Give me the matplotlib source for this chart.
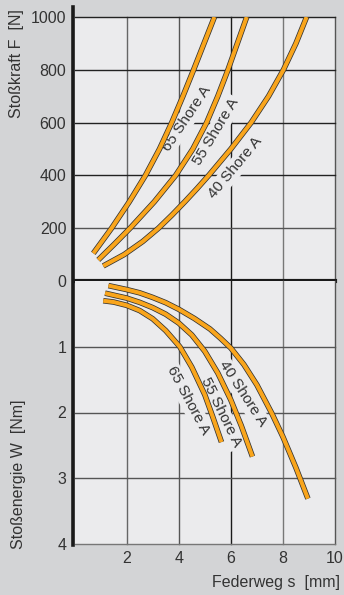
import matplotlib
matplotlib.use("Agg")
import matplotlib.pyplot as plt
import matplotlib.patheffects as pe
from matplotlib.lines import Line2D

plt.rcParams['font.family'] = ['Liberation Sans', 'DejaVu Sans']

# Stosskraft F [N] over Federweg s [mm]
f65_s = [0.72, 1.42, 2.10, 2.72, 3.26, 3.73, 4.16, 4.57, 4.97, 5.37]
f65_F = [105, 200, 300, 400, 500, 600, 700, 800, 900, 1000]
f55_s = [0.91, 1.53, 2.13, 3.06, 3.88, 4.54, 5.07, 5.50, 5.89, 6.25, 6.61]
f55_F = [80, 140, 200, 300, 400, 500, 600, 700, 800, 900, 1000]
f40_s = [1.10, 1.90, 2.62, 3.22, 3.74, 4.23, 4.70, 5.15, 6.00, 6.78, 7.45, 8.02, 8.50, 8.91]
f40_F = [57, 100, 150, 200, 250, 300, 350, 400, 500, 600, 700, 800, 900, 1000]

# Stossenergie W [Nm] over Federweg s [mm]
w65_s = [1.10, 1.5, 2.0, 2.5, 3.0, 3.5, 4.04, 4.5, 5.0, 5.3, 5.64]
w65_W = [0.30, 0.32, 0.37, 0.45, 0.575, 0.755, 1.00, 1.31, 1.73, 2.06, 2.45]
w55_s = [1.17, 1.5, 2.0, 2.5, 3.0, 3.5, 4.0, 4.5, 5.0, 5.5, 6.0, 6.4, 6.83]
w55_W = [0.185, 0.215, 0.26, 0.325, 0.405, 0.505, 0.64, 0.82, 1.07, 1.40, 1.81, 2.20, 2.67]
w40_s = [1.30, 2.0, 2.5, 3.0, 3.5, 4.0, 4.6, 5.2, 5.6, 6.0, 6.5, 7.0, 7.57, 8.0, 8.5, 8.96]
w40_W = [0.07, 0.13, 0.18, 0.25, 0.33, 0.43, 0.57, 0.73, 0.87, 1.02, 1.27, 1.58, 2.01, 2.37, 2.84, 3.31]

x_ticks = [2, 4, 6, 8, 10]
f_ticks = [0, 200, 400, 600, 800, 1000]
w_ticks = [1, 2, 3, 4]
label = "Shore A"

bg_out = '#d3d4d6'
bg_in = '#ebebed'
orange = '#f9a51c'
txt = '#333333'

fig = plt.figure(figsize=(3.44, 5.95), dpi=100, facecolor=bg_out)
W_, H_ = 344.0, 595.0
ax1 = fig.add_axes([74.6 / W_, 1 - 281 / H_, 260.4 / W_, 264 / H_], facecolor=bg_in)
ax2 = fig.add_axes([74.6 / W_, 1 - 544 / H_, 260.4 / W_, 263 / H_], facecolor=bg_in)

for ax in (ax1, ax2):
    ax.set_xlim(0, 10)
    for sp in ax.spines.values():
        sp.set_visible(False)
    ax.tick_params(length=0, labelsize=11.5, labelcolor=txt, pad=6)

ax1.set_ylim(0, 1000)
ax2.set_ylim(4, 0)
ax1.set_xticks([])
ax2.set_xticks(x_ticks)
ax1.set_yticks(f_ticks)
ax2.set_yticks(w_ticks)
ax2.tick_params(axis='x', pad=5)

# grid
vcol = {2: '#666666', 4: '#555555', 6: '#1a1a1a', 8: '#777777', 10: '#555555'}
for ax in (ax1, ax2):
    for xv in x_ticks:
        ax.axvline(xv, color=vcol[xv], lw=1.0, zorder=1, clip_on=False)
for yv in f_ticks[1:]:
    c = '#555555' if yv == 200 else '#222222'
    ax1.axhline(yv, color=c, lw=1.0, zorder=1, clip_on=False)
for yv in w_ticks:
    c = '#777777' if yv == 4 else '#555555'
    ax2.axhline(yv, color=c, lw=1.0, zorder=1, clip_on=False)
ax1.axhline(0, color='#1a1a1a', lw=3.0, zorder=6, clip_on=False)

# curves
stroke = [pe.Stroke(linewidth=4.0, foreground='#333333'), pe.Normal()]
for s, v in [(f65_s, f65_F), (f55_s, f55_F), (f40_s, f40_F)]:
    ax1.plot(s, v, color=orange, lw=2.9, solid_capstyle='butt', solid_joinstyle='round',
             path_effects=stroke, zorder=5)
for s, v in [(w65_s, w65_W), (w55_s, w55_W), (w40_s, w40_W)]:
    ax2.plot(s, v, color=orange, lw=2.9, solid_capstyle='butt', solid_joinstyle='round',
             path_effects=stroke, zorder=5)

box = dict(facecolor=bg_in, edgecolor='none', pad=1.5)
for x, y, r, n in [(4.31, 617, 56, 65), (5.42, 565, 59, 55), (6.16, 428, 50, 40)]:
    ax1.text(x, y, f"{n} {label}", rotation=r, ha='center', va='center',
             rotation_mode='anchor', fontsize=11, color=txt, bbox=box, zorder=3)
for x, y, r, n in [(4.35, 1.81, -62, 65), (5.62, 2.0, -64, 55), (6.45, 1.71, -57, 40)]:
    ax2.text(x, y, f"{n} {label}", rotation=r, ha='center', va='center',
             rotation_mode='anchor', fontsize=11, color=txt, bbox=box, zorder=3)

# thick left axis
fig.add_artist(Line2D([72.5 / W_, 72.5 / W_], [1 - 7 / H_, 1 - 545 / H_],
                      color='#1a1a1a', lw=2.6, transform=fig.transFigure))

fig.text(17 / W_, 1 - 9 / H_, "Stoßkraft F  [N]", rotation=90, ha='center', va='top',
         fontsize=11.5, color=txt)
fig.text(19 / W_, 1 - 549 / H_, "Stoßenergie W  [Nm]", rotation=90, ha='center', va='bottom',
         fontsize=11.5, color=txt)
fig.text(340 / W_, 1 - 582 / H_, "Federweg s  [mm]", ha='right', va='center',
         fontsize=11.5, color=txt)

fig.savefig("out.png", dpi=100, facecolor=bg_out)
